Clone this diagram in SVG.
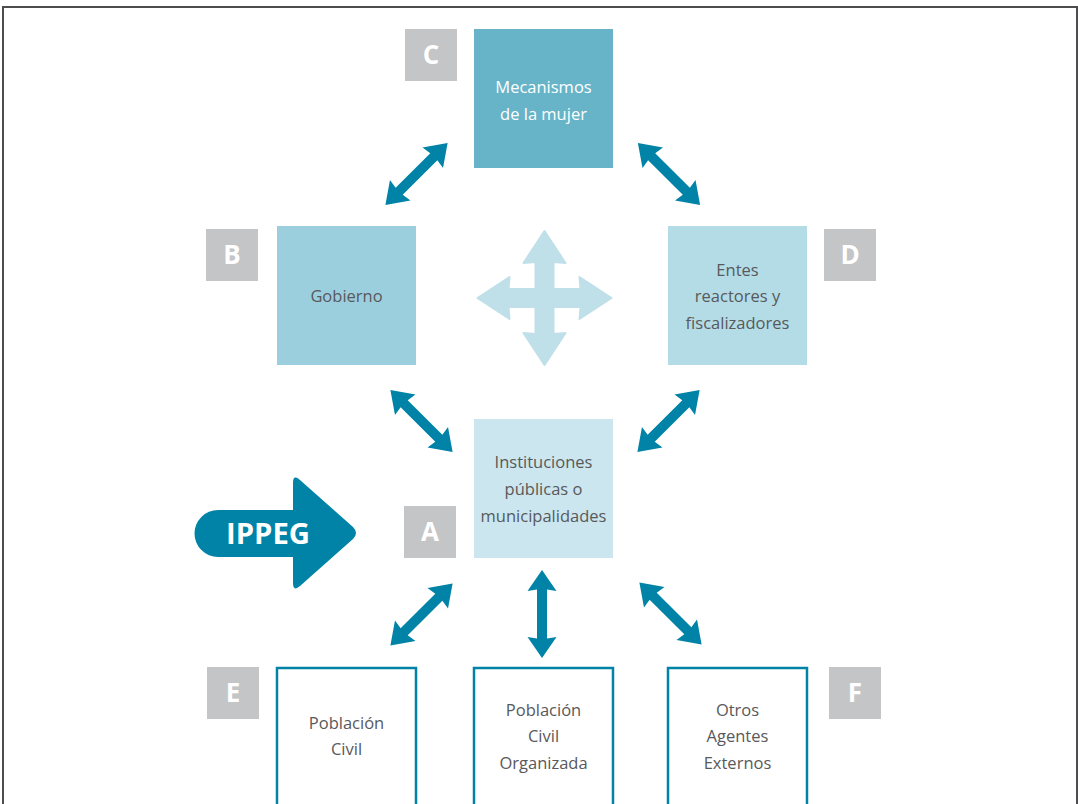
<svg xmlns="http://www.w3.org/2000/svg" xmlns:xlink="http://www.w3.org/1999/xlink" width="1078" height="804" viewBox="0 0 1078 804">
<style>
.lbl{fill:#c4c5c7}
.lt{font-family:"Open Sans","Liberation Sans",sans-serif;font-weight:bold;font-size:26px;fill:#fff;text-anchor:middle}
.nt{font-family:"Open Sans","Liberation Sans",sans-serif;font-size:16.5px;fill:#58595b;text-anchor:middle}
.wt{fill:#fff}
.ob{fill:#fff;stroke:#0083a6;stroke-width:2.5}
.arr{fill:#0083a6}
</style>
<defs>
<path id="dbl" d="M-44,0 L-23,-14.5 L-24.5,-5 L24.5,-5 L23,-14.5 L44,0 L23,14.5 L24.5,5 L-24.5,5 L-23,14.5 Z"/>
</defs>
<g id="frame" fill="none" stroke="#4d4d4f" stroke-width="2">
<path d="M3,804 L3,7 L1077,7 L1077,804"/>
</g>
<g id="cross">
<path fill="#c0e0e9" stroke="#c0e0e9" stroke-width="2" stroke-linejoin="round" transform="translate(544.5,298)" d="M0,-67 L21,-35 L9,-36 L9,-9 L36,-9 L35,-21 L67,0 L35,21 L36,9 L9,9 L9,36 L21,35 L0,67 L-21,35 L-9,36 L-9,9 L-36,9 L-35,21 L-67,0 L-35,-21 L-36,-9 L-9,-9 L-9,-36 L-21,-35 Z"/>
</g>
<g id="ippeg">
<path class="arr" d="M218,510 L293,510 L293,483 Q293,474 300,480 L353,527 Q359,533 353,539 L300,586 Q293,592 293,583 L293,557 L218,557 A23.5,23.5 0 0 1 218,510 Z"/>
<text x="268" y="544" font-family="'Open Sans','Liberation Sans',sans-serif" font-weight="bold" font-size="29" fill="#fff" text-anchor="middle" textLength="84" lengthAdjust="spacingAndGlyphs">IPPEG</text>
</g>
<g id="nodeC">
<rect class="lbl" x="405" y="29" width="52" height="52"/>
<text class="lt" x="431" y="64">C</text>
<rect x="474" y="29" width="139" height="139" fill="#67b4c9"/>
<text class="nt wt" x="543.5" y="93">Mecanismos</text>
<text class="nt wt" x="543.5" y="120">de la mujer</text>
</g>
<g id="nodeB">
<rect class="lbl" x="206" y="229" width="52" height="52"/>
<text class="lt" x="232" y="264">B</text>
<rect x="277" y="226" width="139" height="139" fill="#9bcfdd"/>
<text class="nt" x="346.5" y="302">Gobierno</text>
</g>
<g id="nodeD">
<rect class="lbl" x="824" y="229" width="52" height="52"/>
<text class="lt" x="850" y="264">D</text>
<rect x="668" y="226" width="139" height="139" fill="#b3dce7"/>
<text class="nt" x="737.5" y="276">Entes</text>
<text class="nt" x="737.5" y="302">reactores y</text>
<text class="nt" x="737.5" y="329">fiscalizadores</text>
</g>
<g id="nodeA">
<rect class="lbl" x="404" y="506" width="52" height="52"/>
<text class="lt" x="430" y="541">A</text>
<rect x="474" y="419" width="139" height="139" fill="#cbe6ee"/>
<text class="nt" x="543.5" y="468">Instituciones</text>
<text class="nt" x="543.5" y="495">públicas o</text>
<text class="nt" x="543.5" y="522">municipalidades</text>
</g>
<g id="nodeE">
<rect class="lbl" x="207" y="667" width="52" height="52"/>
<text class="lt" x="233" y="702">E</text>
<rect class="ob" x="277" y="668" width="139" height="150"/>
<text class="nt" x="346.5" y="729">Población</text>
<text class="nt" x="346.5" y="755">Civil</text>
</g>
<g id="nodeM">
<rect class="ob" x="474" y="668" width="139" height="150"/>
<text class="nt" x="543.5" y="716">Población</text>
<text class="nt" x="543.5" y="742">Civil</text>
<text class="nt" x="543.5" y="769">Organizada</text>
</g>
<g id="nodeF">
<rect class="lbl" x="829" y="667" width="52" height="52"/>
<text class="lt" x="855" y="702">F</text>
<rect class="ob" x="668" y="668" width="139" height="150"/>
<text class="nt" x="737.5" y="716">Otros</text>
<text class="nt" x="737.5" y="742">Agentes</text>
<text class="nt" x="737.5" y="769">Externos</text>
</g>
<g id="connectors" class="arr">
<use xlink:href="#dbl" transform="translate(416.5,174) rotate(-45)"/>
<use xlink:href="#dbl" transform="translate(669,174) rotate(45)"/>
<use xlink:href="#dbl" transform="translate(421.5,421) rotate(45)"/>
<use xlink:href="#dbl" transform="translate(668.5,421) rotate(-45)"/>
<use xlink:href="#dbl" transform="translate(421.5,614.5) rotate(-45)"/>
<use xlink:href="#dbl" transform="translate(542,614) rotate(90)"/>
<use xlink:href="#dbl" transform="translate(670.5,613.5) rotate(45)"/>
</g>
</svg>
